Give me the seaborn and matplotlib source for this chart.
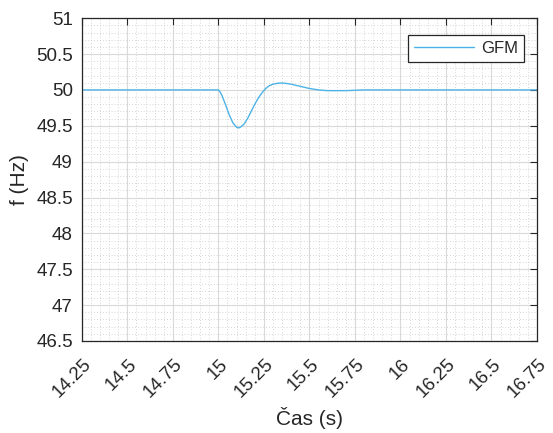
import matplotlib
matplotlib.use("Agg")
import matplotlib.pyplot as plt
import matplotlib.transforms as mtransforms
import seaborn as sns
import pandas as pd
from matplotlib.ticker import MultipleLocator

time_s = [14.25, 15.0, 15.01, 15.02, 15.04, 15.06, 15.08, 15.10, 15.11, 15.12, 15.14, 15.16,
          15.18, 15.20, 15.22, 15.24, 15.26, 15.28, 15.30, 15.33, 15.36, 15.40, 15.45,
          15.50, 15.55, 15.60, 15.70, 15.80, 16.75]
freq_hz = [50.0, 50.0, 49.97, 49.92, 49.79, 49.65, 49.54, 49.48, 49.47, 49.48, 49.52, 49.60,
           49.70, 49.80, 49.89, 49.96, 50.02, 50.06, 50.08, 50.095, 50.095, 50.08, 50.05,
           50.02, 50.00, 49.99, 49.99, 50.0, 50.0]
series_name = "GFM"
x_ticks = [14.25, 14.5, 14.75, 15, 15.25, 15.5, 15.75, 16, 16.25, 16.5, 16.75]
x_tick_labels = ["14.25", "14.5", "14.75", "15", "15.25", "15.5", "15.75", "16", "16.25", "16.5", "16.75"]
y_ticks = [46.5, 47, 47.5, 48, 48.5, 49, 49.5, 50, 50.5, 51]
y_tick_labels = ["46.5", "47", "47.5", "48", "48.5", "49", "49.5", "50", "50.5", "51"]

sns.set_theme(style="white")
plt.rcParams['font.family'] = ['Liberation Sans', 'DejaVu Sans']

df = pd.DataFrame({"t": time_s, "f": freq_hz, "s": series_name})

fig = plt.figure(figsize=(5.53, 4.33), dpi=100)
ax = fig.add_axes([0.148, 0.2125, 0.823, 0.7455])

sns.lineplot(data=df, x="t", y="f", hue="s", palette=["#4DB3E6"], linewidth=1.0, ax=ax)

ax.set_xlim(14.25, 16.75)
ax.set_ylim(46.5, 51)
ax.set_xticks(x_ticks)
ax.set_yticks(y_ticks)
ax.set_yticklabels(y_tick_labels, fontsize=13.5, color="#262626")
ax.xaxis.set_minor_locator(MultipleLocator(0.05))
ax.yaxis.set_minor_locator(MultipleLocator(0.1))

ax.grid(True, which="major", color="#d9d9d9", linewidth=0.8, linestyle="-")
ax.grid(True, which="minor", color="#c8c8c8", linewidth=0.6, linestyle=(0, (1, 2.5)))
ax.set_axisbelow(True)

ax.tick_params(which="both", direction="in", top=True, right=True, color="#262626")
ax.tick_params(which="major", length=5, width=0.8)
ax.tick_params(which="minor", length=0)
ax.tick_params(axis="y", which="major", pad=6.5)
ax.tick_params(axis="x", which="major", pad=15)
for s in ax.spines.values():
    s.set_color("#262626")
    s.set_linewidth(0.9)

ax.set_xticklabels(x_tick_labels, rotation=45, fontsize=13.5, color="#262626",
                   ha="right", va="center", rotation_mode="anchor")
offset = mtransforms.ScaledTranslation(7 / 100, 0, fig.dpi_scale_trans)
for lab in ax.get_xticklabels():
    lab.set_transform(lab.get_transform() + offset)

ax.set_xlabel("Čas (s)", fontsize=15, color="#262626", labelpad=4)
ax.set_ylabel("f (Hz)", fontsize=15, color="#262626", labelpad=5)

leg = ax.legend(loc="upper right", bbox_to_anchor=(0.971, 0.947), borderaxespad=0,
                fontsize=12, frameon=True, fancybox=False, framealpha=1,
                edgecolor="#262626", handlelength=3.6, handletextpad=0.4,
                borderpad=0.35)
leg.get_frame().set_linewidth(0.9)
for txt in leg.get_texts():
    txt.set_color("#262626")

fig.savefig("out.png", dpi=100)
